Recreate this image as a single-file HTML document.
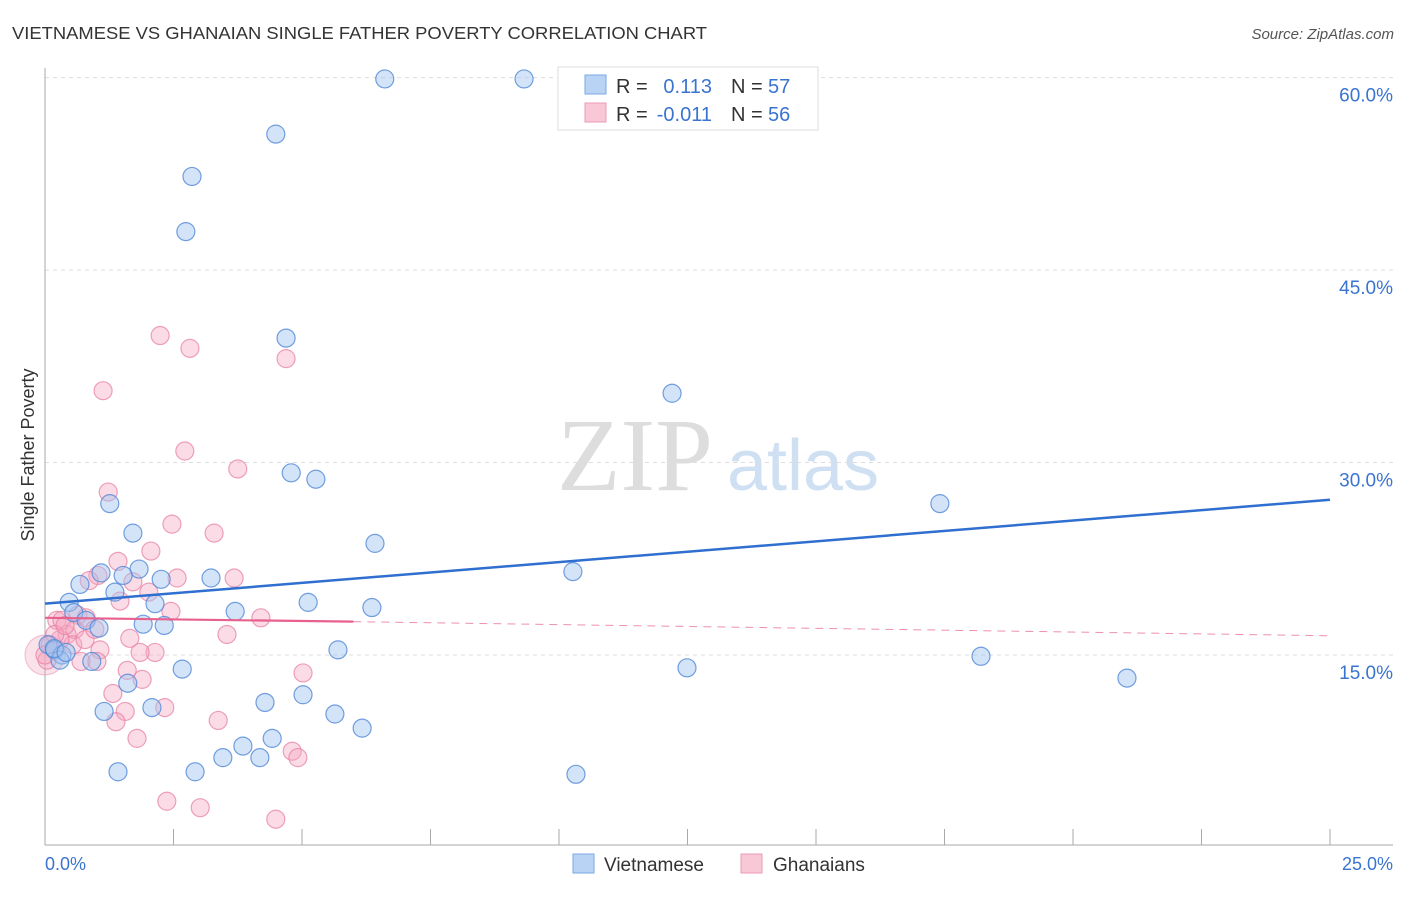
<!DOCTYPE html>
<html><head><meta charset="utf-8"><style>
body{margin:0;background:#fff;font-family:"Liberation Sans",sans-serif}
svg text{font-family:"Liberation Sans",sans-serif}
</style></head><body>
<svg id="chart" width="1406" height="892" viewBox="0 0 1406 892">
<text x="12" y="39" font-size="17.5" fill="#333" textLength="695" lengthAdjust="spacingAndGlyphs">VIETNAMESE VS GHANAIAN SINGLE FATHER POVERTY CORRELATION CHART</text>
<text x="1394" y="39" font-size="15" fill="#555" font-style="italic" text-anchor="end">Source: ZipAtlas.com</text>
<g><text x="635" y="490" font-size="104" fill="#ddd" text-anchor="middle" font-family="Liberation Serif" style="font-family:'Liberation Serif',serif">ZIP</text><text x="803" y="490" font-size="72" fill="#cfe0f3" text-anchor="middle">atlas</text></g>
<g id="grid"></g><g id="axes"></g><g id="pts"></g><g id="trend"></g>
<text transform="translate(34,455) rotate(-90)" font-size="18" fill="#333" text-anchor="middle">Single Father Poverty</text>
<g>
<rect x="558" y="67" width="260" height="63" fill="#fff" stroke="#ddd"/>
<rect x="585" y="75" width="21" height="19" fill="#b8d3f4" stroke="#7aaae6"/>
<text x="616" y="93" font-size="20" fill="#333">R =</text><text x="712" y="93" font-size="20" fill="#3a74d0" text-anchor="end">0.113</text>
<text x="731" y="93" font-size="20" fill="#333">N =</text><text x="768" y="93" font-size="20" fill="#3a74d0">57</text>
<rect x="585" y="103" width="21" height="19" fill="#f8c8d6" stroke="#eb9ab4"/>
<text x="616" y="121" font-size="20" fill="#333">R =</text><text x="712" y="121" font-size="20" fill="#3a74d0" text-anchor="end">-0.011</text>
<text x="731" y="121" font-size="20" fill="#333">N =</text><text x="768" y="121" font-size="20" fill="#3a74d0">56</text>
</g>
<g>
<rect x="573" y="854" width="21" height="19" fill="#b8d3f4" stroke="#7aaae6"/><text x="604" y="871" font-size="19" fill="#333">Vietnamese</text>
<rect x="741" y="854" width="21" height="19" fill="#f8c8d6" stroke="#eb9ab4"/><text x="773" y="871" font-size="19" fill="#333">Ghanaians</text>
</g>
</svg>
<script>
const yTicks=[15,30,45,60];
const yTickLabels=["15.0%","30.0%","45.0%","60.0%"];
const xTickLabels=["0.0%","25.0%"];
const viX=[6.61,9.32,4.49,2.86,2.74,4.69,12.2,4.79,5.27,17.41,1.26,1.71,6.42,10.27,1.83,1.52,1.09,0.68,2.26,3.23,1.36,2.14,0.47,5.12,6.36,3.70,0.56,0.80,1.91,2.32,1.05,5.70,18.21,0.06,0.19,0.33,0.91,0.29,2.67,12.49,21.05,1.61,5.02,4.28,2.08,1.15,5.64,6.17,4.42,3.85,3.46,4.18,1.42,2.92,10.33,0.18,0.41];
const viY=[59.9,59.9,55.6,52.3,48.0,39.7,35.4,29.2,28.7,26.8,26.8,24.5,23.7,21.5,21.7,21.2,21.4,20.5,20.9,21.0,19.9,19.0,19.1,19.1,18.7,18.4,18.3,17.7,17.4,17.3,17.1,15.4,14.9,15.8,15.4,15.0,14.5,14.6,13.9,14.0,13.2,12.8,11.9,11.3,10.9,10.6,10.4,9.3,8.5,7.9,7.0,7.0,5.9,5.9,5.7,15.5,15.2];
const ghX=[2.24,2.82,4.69,1.13,2.72,3.75,1.23,2.47,3.29,1.42,2.06,1.03,0.86,1.71,2.57,3.68,2.02,1.46,2.45,4.20,0.23,0.64,0.43,0.33,0.58,0.80,1.65,3.54,0.54,1.07,2.14,1.85,0.10,0.04,0.70,1.01,5.02,1.60,1.89,1.32,2.33,1.56,3.37,1.38,1.79,4.81,4.92,2.37,3.02,4.49,0.29,0.0,0.19,0.39,0.78,0.97];
const ghY=[39.9,38.9,38.1,35.6,30.9,29.5,27.7,25.2,24.5,22.3,23.1,21.2,20.8,20.7,21.0,21.0,19.9,19.2,18.4,17.9,17.7,18.1,16.6,17.7,17.0,17.9,16.3,16.6,15.8,15.4,15.2,15.2,15.8,14.6,14.5,14.5,13.6,13.8,13.1,12.0,10.9,10.6,9.9,9.8,8.5,7.5,7.0,3.6,3.1,2.2,16.2,15.0,16.6,17.3,16.2,17.0];
const viTrend=[19.0,27.1];
const ghTrend=[17.9,17.6,16.5];
const ghTrendSolidEnd=6.0;
const NS='http://www.w3.org/2000/svg';
const X=v=>45+v*51.4;
const Y=v=>655-(v-15)*12.83;
function mk(tag,attrs,parent){const e=document.createElementNS(NS,tag);for(const k in attrs)e.setAttribute(k,attrs[k]);parent.appendChild(e);return e;}
const grid=document.getElementById('grid'),axes=document.getElementById('axes'),pts=document.getElementById('pts'),trend=document.getElementById('trend');
yTicks.forEach((t,i)=>{
 const l=mk('line',{x1:45,x2:1393,y1:Y(t),y2:Y(t),stroke:'#ddd','stroke-dasharray':'4,4'},grid);
 
 
 const tx=mk('text',{x:1393,y:Y(t)+24,'font-size':19,fill:'#3a74d0','text-anchor':'end'},axes);
 tx.textContent=yTickLabels[i];
 
 
});
const ya=mk('line',{x1:45,x2:45,y1:68,y2:845,stroke:'#aaa'},axes);


const xa=mk('line',{x1:45,x2:1393,y1:845,y2:845,stroke:'#aaa'},axes);


for(let k=1;k<=10;k++){const t=mk('line',{x1:X(k*2.5),x2:X(k*2.5),y1:829,y2:845,stroke:'#aaa'},axes);
 
 }
[[0,'start'],[25,'end']].forEach((d,i)=>{const t=mk('text',{x:i?1393:45,y:870,'font-size':18,fill:'#3a74d0','text-anchor':d[1]},axes);t.textContent=xTickLabels[i];
 
 });
const big1=mk('circle',{cx:X(0),cy:Y(15),r:20,fill:'rgba(240,160,190,0.3)',stroke:'rgba(230,130,165,0.5)'},pts);


ghX.forEach((x,i)=>{const c=mk('circle',{cx:X(x),cy:Y(ghY[i]),r:9,fill:'rgba(244,168,192,0.4)',stroke:'rgba(232,130,165,0.75)','stroke-width':1.2},pts);
 
 });
viX.forEach((x,i)=>{const c=mk('circle',{cx:X(x),cy:Y(viY[i]),r:9,fill:'rgba(160,196,240,0.45)',stroke:'rgba(80,135,215,0.8)','stroke-width':1.2},pts);
 
 });
const tv=mk('line',{x1:X(0),y1:Y(viTrend[0]),x2:X(25),y2:Y(viTrend[1]),stroke:'#2f6fd0','stroke-width':2.5},trend);


const tg=mk('line',{x1:X(0),y1:Y(ghTrend[0]),x2:X(ghTrendSolidEnd),y2:Y(ghTrend[1]),stroke:'#e8608e','stroke-width':2.2},trend);


const tgd=mk('line',{x1:X(ghTrendSolidEnd),y1:Y(ghTrend[1]),x2:X(25),y2:Y(ghTrend[2]),stroke:'#e8608e','stroke-width':1,'stroke-dasharray':'8,6',opacity:0.7},trend);


</script>
</body></html>
